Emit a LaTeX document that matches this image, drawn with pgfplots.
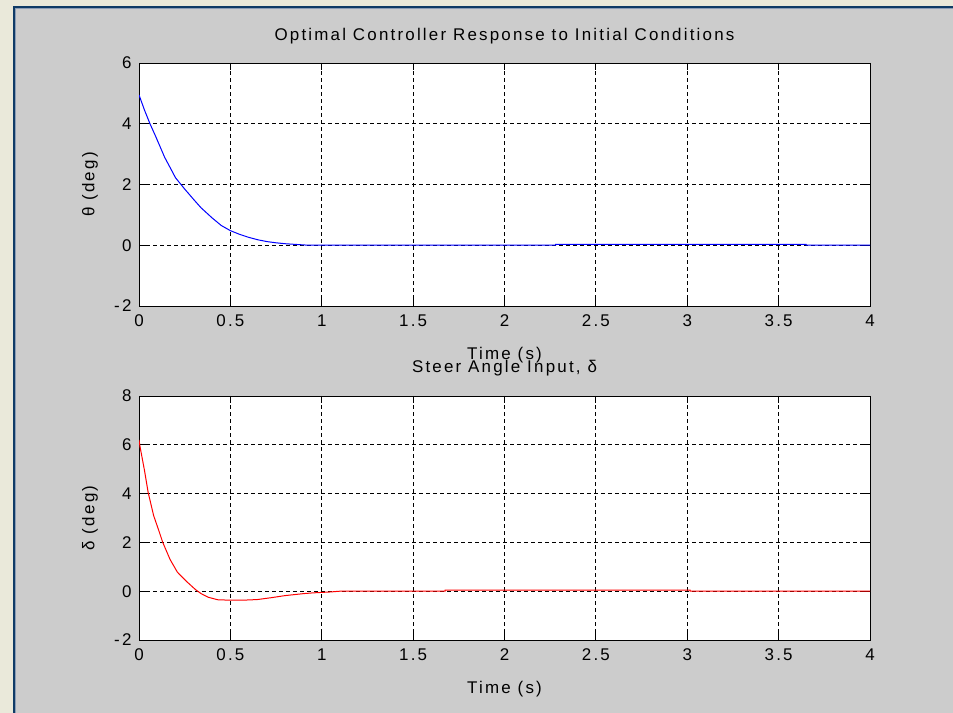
\documentclass[border=0pt]{standalone}
\usepackage{fontspec}
\setmainfont[LetterSpace=13]{Liberation Sans}
\usepackage{pgfplots}
\pgfplotsset{compat=1.18}

\definecolor{parchment}{HTML}{EAE9DA}
\definecolor{figgrey}{HTML}{CCCCCC}
\definecolor{navy}{HTML}{0F3B66}
\definecolor{navylight}{HTML}{8C9DB5}
\definecolor{mblue}{HTML}{0000FF}
\definecolor{mred}{HTML}{FF0000}

\pgfplotsset{
  matlabaxis/.style={
    scale only axis, width=731bp, anchor=south west,
    xmin=0, xmax=4, xtick={0,0.5,...,4},
    axis background/.style={fill=white},
    grid=major,
    major grid style={black, line width=0.9bp, dash pattern=on 4bp off 3bp},
    tick align=inside, tick pos=both, major tick length=7bp,
    every tick/.style={black, line width=0.9bp},
    axis line style={black, line width=0.9bp},
    /pgf/number format/assume math mode=true,
    tick label style={font=\fontsize{17}{20}\selectfont},
    yticklabel style={anchor=east, xshift=-4bp},
    xticklabel style={anchor=north, yshift=-5.5bp},
    label style={font=\fontsize{17}{20}\selectfont},
    title style={font=\fontsize{17}{20}\selectfont, at={(axis description cs:0.5,1)}, anchor=base},
    xlabel style={at={(axis description cs:0.5,0)}, anchor=base, yshift=-53.5bp},
    ylabel style={at={(axis description cs:-0.067,0.5)}, anchor=center},
  }
}

\begin{document}
\begin{tikzpicture}[x=1bp, y=1bp]
  \useasboundingbox (0,0) rectangle (953,713);
  % page backdrop and figure window
  \fill[parchment] (0,0) rectangle (953,713);
  \begin{scope}
    \clip (0,0) rectangle (953,713);
    \fill[figgrey] (14,-10) rectangle (970,706);
    \draw[navy, line width=2.6bp] (14,-10) -- (14,706) -- (970,706);
    \draw[navylight, line width=0.8bp] (15.8,-10) -- (15.8,704.2) -- (970,704.2);
  \end{scope}

  % theta response
  \begin{axis}[matlabaxis, at={(139bp,407bp)}, height=243bp,
      ymin=-2, ymax=6, ytick={-2,0,...,6},
      title={Optimal Controller Response to Initial Conditions},
      title style={yshift=16.5bp},
      xlabel={Time (s)}, ylabel={θ (deg)}]
    \addplot[mblue, line width=1bp] coordinates {
      (0,4.95) (0.03,4.45) (0.06,4.0) (0.09,3.6) (0.14,2.9) (0.2,2.22)
      (0.25,1.85) (0.3,1.5) (0.34,1.23) (0.4,0.9) (0.45,0.65) (0.5,0.48)
      (0.55,0.36) (0.6,0.26) (0.65,0.18) (0.7,0.12) (0.75,0.08) (0.8,0.05)
      (0.85,0.03) (0.93,0.0) (2.28,0.0) (2.28,0.03) (3.65,0.03) (3.65,0) (4,0)
    };
  \end{axis}

  % steer angle input
  \begin{axis}[matlabaxis, at={(139bp,73bp)}, height=244bp,
      ymin=-2, ymax=8, ytick={-2,0,...,8},
      title={Steer Angle Input, δ},
      title style={yshift=18bp},
      xlabel={Time (s)}, ylabel={δ (deg)}]
    \addplot[mred, line width=1bp] coordinates {
      (0,6.2) (0.005,5.95) (0.03,4.95) (0.05,4.05) (0.08,3.1) (0.11,2.45)
      (0.13,2.0) (0.17,1.3) (0.21,0.78) (0.26,0.4) (0.31,0.06) (0.34,-0.1)
      (0.38,-0.25) (0.43,-0.35) (0.5,-0.37) (0.6,-0.36) (0.65,-0.34)
      (0.72,-0.27) (0.8,-0.18) (0.9,-0.1) (0.95,-0.07) (1.05,-0.03) (1.1,0)
      (1.675,0) (1.675,0.04) (3.015,0.04) (3.015,0) (4,0)
    };
  \end{axis}
\end{tikzpicture}
\end{document}
